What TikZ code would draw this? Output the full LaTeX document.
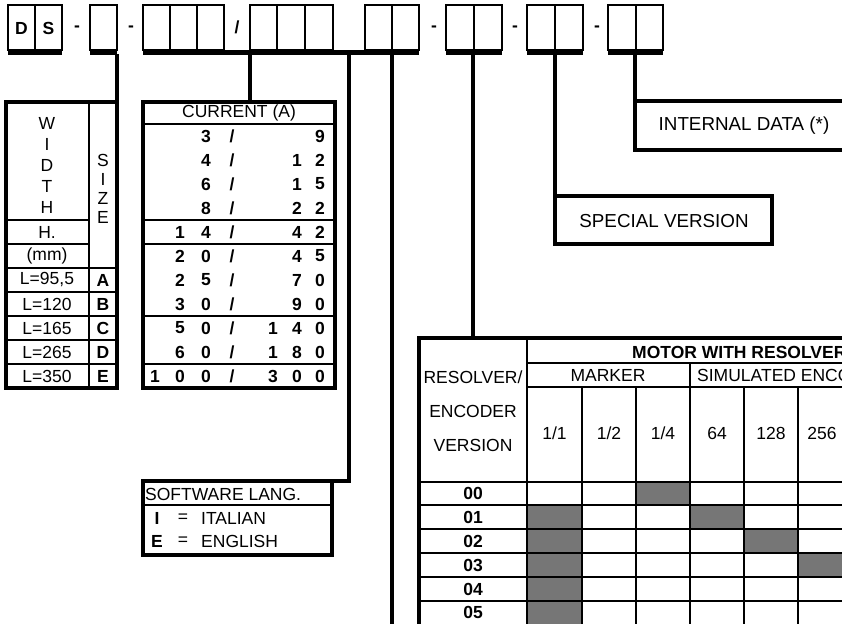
\documentclass[tikz,border=0pt]{standalone}
\usepackage{fontspec}
\setmainfont{Liberation Sans}
\definecolor{shadegray}{RGB}{118,118,118}
\newcommand{\fsz}{\fontsize{17.5}{20}\selectfont}
\newcommand{\fszb}{\fontsize{18.8}{22}\selectfont}
\begin{document}
\begin{tikzpicture}[x=1pt,y=-1pt,
  txt/.style={font=\fsz, inner sep=0pt},
  btxt/.style={font=\fsz\bfseries, inner sep=0pt},
  bigtxt/.style={font=\fszb, inner sep=0pt},
  cellline/.style={line width=1.6pt},
  bar/.style={line width=4.5pt},
  conn/.style={line width=4pt},
  frame/.style={line width=3.4pt},
  thinl/.style={line width=1.1pt},
  midl/.style={line width=1.8pt},
  grid/.style={line width=1.7pt},
  shade/.style={fill=shadegray}]
\useasboundingbox (0,0) rectangle (842,623);
\clip (0,0) rectangle (842,623);

% ---------- top code row ----------
\foreach \a/\b in {8/62,90/117,143/224,250/333,365/419,446/502,527/583,608/663}
  \draw[cellline] (\a,5) rectangle (\b,50);
\foreach \x in {35,170,197,277,305,392,474,555,636}
  \draw[cellline] (\x,5) -- (\x,50);
\foreach \a/\b in {8/62,90/117,143/419,446/502,527/583,608/663}
  \draw[bar] (\a,52.5) -- (\b,52.5);
\node[btxt] (cD) at (21.5,28) {D};
\node[btxt] (cS) at (48.5,28) {S};
\node[btxt] (dash1) at (77,29) {-};
\node[btxt] (dash2) at (131,29) {-};
\node[btxt] (slash0) at (237,27) {/};
\node[btxt] (dash3) at (434,29) {-};
\node[btxt] (dash4) at (515,29) {-};
\node[btxt] (dash5) at (597,29) {-};

% ---------- connectors ----------
\coordinate (k1) at (117,54);
\coordinate (k2) at (250,54);
\coordinate (k3) at (349,54);
\coordinate (k4) at (392,54);
\coordinate (k5) at (473,54);
\coordinate (k6) at (555,54);
\coordinate (k7) at (635,54);
\draw[conn] (k2) -- (250,102);
\draw[conn] (k3) -- (349,481) -- (143,481);
\draw[conn] (k4) -- (392,625);
\draw[conn] (k5) -- (473,340);

% ---------- width / size table ----------
\draw[frame] (6,102) rectangle (117,388);
\draw[conn] (k1) -- (117,102);
\draw[thinl] (89,102) -- (89,388);
\draw[thinl] (6,220) -- (89,220);
\draw[thinl] (6,244) -- (89,244);
\draw[midl] (6,268) -- (117,268);
\foreach \y in {292,316,340,364} \draw[thinl] (6,\y) -- (117,\y);
\node[txt] (wW) at (47,123) {W};
\node[txt] (wI) at (47,144) {I};
\node[txt] (wD) at (47,165) {D};
\node[txt] (wT) at (47,186) {T};
\node[txt] (wH) at (47,207) {H};
\node[txt] (wH2) at (47,232) {H.};
\node[txt] (wmm) at (47,256) {(mm)};
\node[txt] (sS) at (103,160) {S};
\node[txt] (sI) at (103,179) {I};
\node[txt] (sZ) at (103,198) {Z};
\node[txt] (sE) at (103,217) {E};
\node[txt] (L1) at (47,280) {L=95,5};
\node[txt] (L2) at (47,304) {L=120};
\node[txt] (L3) at (47,328) {L=165};
\node[txt] (L4) at (47,352) {L=265};
\node[txt] (L5) at (47,376) {L=350};
\node[btxt] (zA) at (103,280) {A};
\node[btxt] (zB) at (103,304) {B};
\node[btxt] (zC) at (103,328) {C};
\node[btxt] (zD) at (103,352) {D};
\node[btxt] (zE) at (103,376) {E};

% ---------- current table ----------
\draw[frame] (143,102) rectangle (335,388);
\foreach \y in {124,220,244,316,364} \draw[thinl] (143,\y) -- (335,\y);
\node[txt] (curhead) at (239,113) {CURRENT (A)};
\foreach \y [count=\r] in {136,160,184,208,232,256,280,304,328,352,376}
  \node[btxt] (sl\r) at (232,\y) {/};
% left numbers
\node[btxt] (a1) at (206,136) {3};
\node[btxt] (a2) at (206,160) {4};
\node[btxt] (a3) at (206,184) {6};
\node[btxt] (a4) at (206,208) {8};
\node[btxt] (a5a) at (180,232) {1};
\node[btxt] (a5b) at (206,232) {4};
\node[btxt] (a6a) at (180,256) {2};
\node[btxt] (a6b) at (206,256) {0};
\node[btxt] (a7a) at (180,280) {2};
\node[btxt] (a7b) at (206,280) {5};
\node[btxt] (a8a) at (180,304) {3};
\node[btxt] (a8b) at (206,304) {0};
\node[btxt] (a9a) at (180,328) {5};
\node[btxt] (a9b) at (206,328) {0};
\node[btxt] (a10a) at (180,352) {6};
\node[btxt] (a10b) at (206,352) {0};
\node[btxt] (a11x) at (155,376) {1};
\node[btxt] (a11a) at (180,376) {0};
\node[btxt] (a11b) at (206,376) {0};
% right numbers
\node[btxt] (b1) at (320,136) {9};
\node[btxt] (b2a) at (297,160) {1};
\node[btxt] (b2b) at (320,160) {2};
\node[btxt] (b3a) at (297,184) {1};
\node[btxt] (b3b) at (320,184) {5};
\node[btxt] (b4a) at (297,208) {2};
\node[btxt] (b4b) at (320,208) {2};
\node[btxt] (b5a) at (297,232) {4};
\node[btxt] (b5b) at (320,232) {2};
\node[btxt] (b6a) at (297,256) {4};
\node[btxt] (b6b) at (320,256) {5};
\node[btxt] (b7a) at (297,280) {7};
\node[btxt] (b7b) at (320,280) {0};
\node[btxt] (b8a) at (297,304) {9};
\node[btxt] (b8b) at (320,304) {0};
\node[btxt] (b9x) at (273,328) {1};
\node[btxt] (b9a) at (297,328) {4};
\node[btxt] (b9b) at (320,328) {0};
\node[btxt] (b10x) at (273,352) {1};
\node[btxt] (b10a) at (297,352) {8};
\node[btxt] (b10b) at (320,352) {0};
\node[btxt] (b11x) at (273,376) {3};
\node[btxt] (b11a) at (297,376) {0};
\node[btxt] (b11b) at (320,376) {0};

% ---------- software language ----------
\draw[frame] (143,481) rectangle (332,555);
\draw[thinl] (143,505) -- (332,505);
\node[txt, anchor=west] (swhead) at (145,494) {SOFTWARE LANG.};
\node[btxt] (swI) at (157,518) {I};
\node[txt] (swIe) at (183,518) {=};
\node[txt, anchor=west] (swIt) at (201,518) {ITALIAN};
\node[btxt] (swE) at (157,541) {E};
\node[txt] (swEe) at (183,541) {=};
\node[txt, anchor=west] (swEn) at (201,541) {ENGLISH};

% ---------- special version / internal data ----------
\draw[conn] (k6) -- (555,244);
\draw[conn] (555,196) -- (772,196) -- (772,244) -- (553,244);
\node[bigtxt] (special) at (664,221) {SPECIAL VERSION};
\draw[conn] (k7) -- (635,150);
\draw[conn] (635,101) -- (850,101);
\draw[conn] (633,150) -- (850,150);
\node[bigtxt] (internal) at (744,126) {INTERNAL DATA (*)};

% ---------- resolver / encoder table ----------
\fill[shade] (635,482) rectangle (690,505);
\fill[shade] (527,505) rectangle (582,625);
\fill[shade] (690,505) rectangle (744,529);
\fill[shade] (744,529) rectangle (798,553);
\fill[shade] (798,553) rectangle (850,577);
\draw[grid] (527,340) -- (527,625);
\draw[grid] (690,363) -- (690,625);
\foreach \x in {582,636,744,798} \draw[grid] (\x,387) -- (\x,625);
\draw[grid] (527,363) -- (850,363);
\draw[grid] (527,387) -- (850,387);
\draw[line width=2.2pt] (419,482) -- (850,482);
\foreach \y in {505,529,553,577,601} \draw[grid] (419,\y) -- (850,\y);
\draw[conn] (419,338) -- (850,338);
\draw[conn] (419,336) -- (419,625);
\node[btxt, anchor=west] (motor) at (632,352) {MOTOR WITH RESOLVER};
\node[txt] (marker) at (608,375) {MARKER};
\node[txt, anchor=west] (simenc) at (697,375) {SIMULATED ENCODER};
\node[txt] (rv1) at (473,377) {RESOLVER/};
\node[txt] (rv2) at (473,411) {ENCODER};
\node[txt] (rv3) at (473,445) {VERSION};
\node[txt] (h1) at (554.5,433) {1/1};
\node[txt] (h2) at (609,433) {1/2};
\node[txt] (h3) at (663,433) {1/4};
\node[txt] (h4) at (717,433) {64};
\node[txt] (h5) at (771,433) {128};
\node[txt] (h6) at (822,433) {256};
\foreach \y/\t in {493.5/00,517/01,541/02,565/03,589/04,612/05}
  \node[btxt] (row\t) at (473,\y) {\t};
\end{tikzpicture}
\end{document}
